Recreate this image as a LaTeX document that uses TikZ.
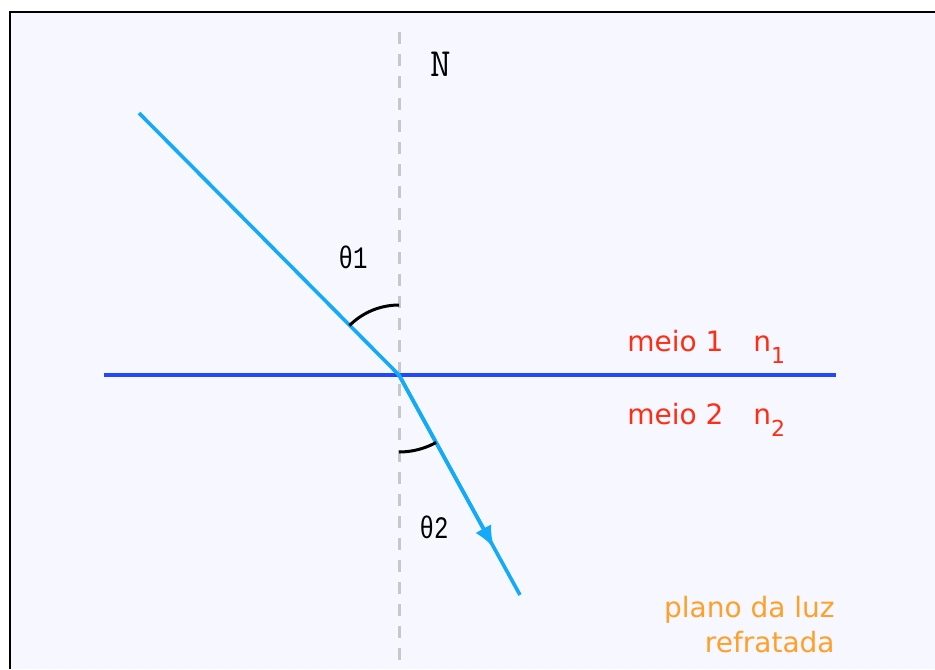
\documentclass[tikz,border=0pt]{standalone}
\usepackage{fontspec}
\setmainfont{DejaVu Sans}
\newfontfamily\monofont{Liberation Mono}
\usepackage{tikz}
\usetikzlibrary{arrows.meta,positioning}
\usepackage{xcolor}
\definecolor{paperbg}{RGB}{247,247,255}
\definecolor{normalgray}{RGB}{200,200,200}
\definecolor{surfaceblue}{RGB}{35,70,255}
\definecolor{rayblue}{RGB}{20,170,250}
\definecolor{mediumred}{RGB}{255,45,20}
\definecolor{planeorange}{RGB}{255,160,40}
\tikzset{
    normalline/.style={
        normalgray,
        line width=1.5pt,
        dash pattern=on 6pt off 5pt
    },
    surfaceline/.style={
        surfaceblue,
        line width=2pt
    },
    lightray/.style={
        rayblue,
        line width=1.8pt
    },
    anglearc/.style={
        black,
        line width=1.5pt
    },
    anglelabel/.style={
        font=\monofont\fontsize{12}{12}\selectfont,
        inner sep=0pt
    },
    mediumlabel/.style={
        mediumred,
        font=\fontsize{14}{14}\selectfont,
        inner sep=0pt,
        anchor=base west
    },
    planelabel/.style={
        planeorange,
        font=\fontsize{14}{14}\selectfont,
        inner sep=0pt,
        anchor=base east
    }
}

\begin{document}
\begin{tikzpicture}[x=0.5pt,y=-0.5pt]
    \useasboundingbox (0,0) rectangle (935,669);
    % Frame
    \fill[white] (0,0) rectangle (935,669);
    \fill[paperbg] (10,12) rectangle (935,669);
    \draw[line width=1.2pt] (10,669) -- (10,12) -- (935,12);

    % Points
    \coordinate (O) at (399,375);
    \coordinate (normal_top) at (399,32);
    \coordinate (normal_bottom) at (399,669);
    \coordinate (surf_left) at (104,375);
    \coordinate (surf_right) at (836,375);
    \coordinate (ray_in) at (139,113);
    \coordinate (ray_tip) at (494,548);
    \coordinate (ray_out) at (520,595);
    \coordinate (arc_one) at (399,305);
    \coordinate (arc_two) at (399,452);

    % Normal and surface
    \draw[normalline] (normal_top) -- (normal_bottom);
    \node[font=\ttfamily\fontsize{20}{20}\selectfont, inner sep=0pt] (N) at (441,64) {N};
    \draw[surfaceline] (surf_left) -- (surf_right);

    % Incident and refracted rays
    \draw[lightray] (ray_in) -- (O);
    \draw[lightray] (O) -- (ray_out);
    \draw[lightray, -{Latex[length=11pt,width=9pt]}] (O) -- (ray_tip);

    % Angles
    \draw[anglearc] (arc_one) arc[start angle=-90, end angle=-135, radius=70];
    \draw[anglearc] (arc_two) arc[start angle=90, end angle=61.2, radius=77];
    \node[anglelabel] (theta_one) at (353,257) {\scalebox{1}[1.3]{θ1}};
    \node[anglelabel] (theta_two) at (434,527) {\scalebox{1}[1.3]{θ2}};

    % Media
    \node[mediumlabel] (meio_one) at (627,351) {meio 1};
    \node[mediumlabel] (n_one) at (753,351) {n\raisebox{-6pt}{\fontsize{11}{11}\selectfont 1}};
    \node[mediumlabel] (meio_two) at (627,424) {meio 2};
    \node[mediumlabel] (n_two) at (753,424) {n\raisebox{-6pt}{\fontsize{11}{11}\selectfont 2}};

    % Plane
    \node[planelabel] (plano) at (835,617) {plano da luz};
    \node[planelabel] (refratada) at (835,652) {refratada};
\end{tikzpicture}
\end{document}
